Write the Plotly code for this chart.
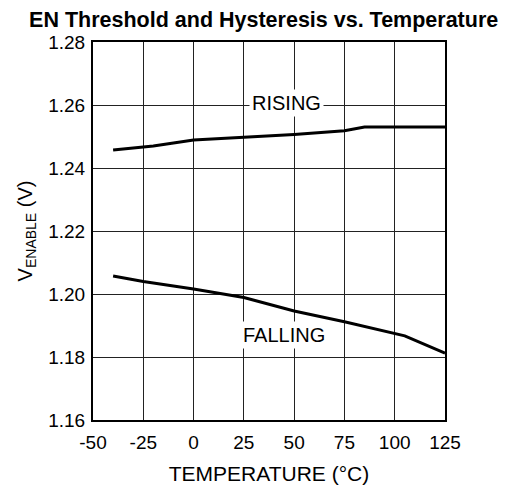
import plotly.graph_objects as go

temp_rising = [-40, -25, -20, 0, 25, 50, 75, 85, 105, 125]
v_rising = [1.2457, 1.2466, 1.2470, 1.2489, 1.2497, 1.2506, 1.2518, 1.2530, 1.2530, 1.2530]

temp_falling = [-40, -25, 0, 25, 50, 75, 105, 125]
v_falling = [1.2057, 1.2040, 1.2016, 1.1989, 1.1946, 1.1912, 1.1867, 1.1812]

x_ticks = [-50, -25, 0, 25, 50, 75, 100, 125]
y_ticks = [1.16, 1.18, 1.20, 1.22, 1.24, 1.26, 1.28]

fonte = "Liberation Sans, Arial, sans-serif"

fig = go.Figure()

fig.add_trace(go.Scatter(
    x=temp_rising, y=v_rising, mode="lines",
    line=dict(color="black", width=3), showlegend=False,
))
fig.add_trace(go.Scatter(
    x=temp_falling, y=v_falling, mode="lines",
    line=dict(color="black", width=3), showlegend=False,
))

fig.add_annotation(
    x=46, y=1.2605, text="RISING", showarrow=False,
    font=dict(size=20, color="black", family=fonte),
    bgcolor="white", borderpad=2,
)
fig.add_annotation(
    x=45, y=1.187, text="FALLING", showarrow=False,
    font=dict(size=20, color="black", family=fonte),
    bgcolor="white", borderpad=2,
)

# pedaço do título anterior cortado no topo
fig.add_annotation(
    xref="paper", yref="paper", x=0.48, y=1.0, yshift=37,
    text="IN", showarrow=False, yanchor="bottom",
    font=dict(size=12, color="black", family=fonte),
)

fig.update_layout(
    width=509,
    height=489,
    margin=dict(l=93, r=64, t=42, b=69, autoexpand=False),
    paper_bgcolor="white",
    plot_bgcolor="white",
    font=dict(family=fonte, color="black", size=19),
    title=dict(
        text="<b>EN Threshold and Hysteresis vs. Temperature</b>",
        x=0.518, xanchor="center", y=0.96, yanchor="middle",
        font=dict(size=21.5, color="black", family=fonte),
    ),
)

fig.update_xaxes(
    range=[-50, 125],
    tickvals=x_ticks,
    ticktext=[str(v) for v in x_ticks],
    showgrid=True, gridcolor="#222", gridwidth=1.3,
    showline=True, linecolor="black", linewidth=2, mirror=True,
    ticks="outside", ticklen=4, tickcolor="white",
    zeroline=False, automargin=False,
    title=dict(text="TEMPERATURE (°C)", standoff=15, font=dict(size=21)),
)
fig.update_yaxes(
    range=[1.16, 1.28],
    tickvals=y_ticks,
    ticktext=[f"{v:.2f}" for v in y_ticks],
    showgrid=True, gridcolor="#222", gridwidth=1.3,
    showline=True, linecolor="black", linewidth=2, mirror=True,
    ticks="outside", ticklen=2, tickcolor="white",
    zeroline=False, automargin=False,
    title=dict(text="V<sub>ENABLE</sub> (V)", standoff=10, font=dict(size=20)),
)

fig.write_html(
    "out.html",
    config={"displayModeBar": False},
    post_script="document.body.style.margin='0';",
)
